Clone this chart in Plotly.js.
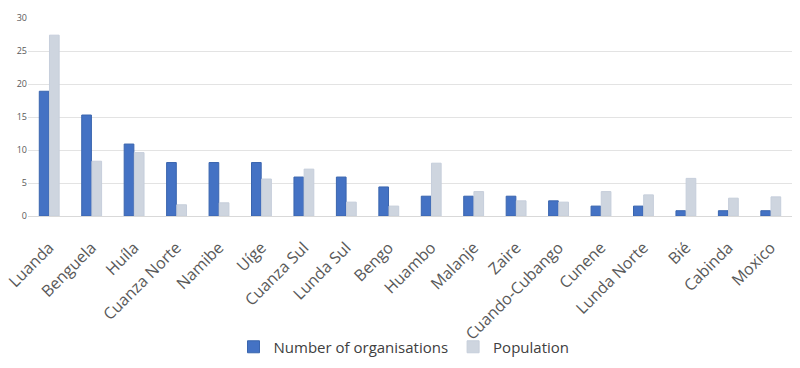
<!DOCTYPE html>
<html>
<head>
<meta charset="utf-8">
<script src="https://cdn.plot.ly/plotly-3.0.1.min.js"></script>
<style>html,body{margin:0;padding:0;background:#fff;}#chart{width:800px;height:368px;}</style>
</head>
<body>
<div id="chart"></div>
<script>
var provinces = ["Luanda","Benguela","Huíla","Cuanza Norte","Namibe","Uíge","Cuanza Sul","Lunda Sul","Bengo","Huambo","Malanje","Zaire","Cuando-Cubango","Cunene","Lunda Norte","Bié","Cabinda","Moxico"];
var organisations = [18.9,15.3,10.9,8.1,8.1,8.1,5.9,5.9,4.4,3.0,3.0,3.0,2.3,1.5,1.5,0.8,0.8,0.8];
var population = [27.4,8.3,9.6,1.7,2.0,5.6,7.1,2.1,1.5,8.0,3.7,2.3,2.1,3.7,3.2,5.7,2.7,2.9];
var yTicks = [0,5,10,15,20,25,30];

var traces = [
  {type:'bar', name:'Number of organisations', x:provinces, y:organisations,
   marker:{color:'#4472c4', line:{color:'#3a65ae', width:1}}},
  {type:'bar', name:'Population', x:provinces, y:population,
   marker:{color:'#ced5df', line:{color:'#c6cedb', width:1}}}
];
var layout = {
  width:800, height:368,
  margin:{l:28, r:8, t:18, b:152, pad:0},
  paper_bgcolor:'#fff', plot_bgcolor:'#fff',
  barmode:'group', bargap:0.52, bargroupgap:0.05,
  font:{family:'Open Sans, Liberation Sans, sans-serif', color:'#595959'},
  xaxis:{type:'category', tickangle:-45, tickfont:{size:16, color:'#595959'}, ticklabelstandoff:15,
         showgrid:false, showline:true, linecolor:'#d9d9d9', linewidth:1, ticks:'', automargin:false},
  yaxis:{range:[0,30], tickvals:yTicks, ticktext:yTicks.map(String), tickfont:{size:9, color:'#595959'},
         showgrid:true, gridcolor:'#e3e3e3', gridwidth:1, zeroline:false, showline:false, ticks:'', ticklen:0, automargin:false},
  showlegend:true,
  legend:{orientation:'h', xref:'container', yref:'container', x:0.505, xanchor:'center', y:0.057, yanchor:'middle',
          bgcolor:'rgba(0,0,0,0)', font:{size:15, color:'#404040'}, itemwidth:30, traceorder:'normal'}
};
Plotly.newPlot('chart', traces, layout, {displayModeBar:false, staticPlot:true});
</script>
</body>
</html>
